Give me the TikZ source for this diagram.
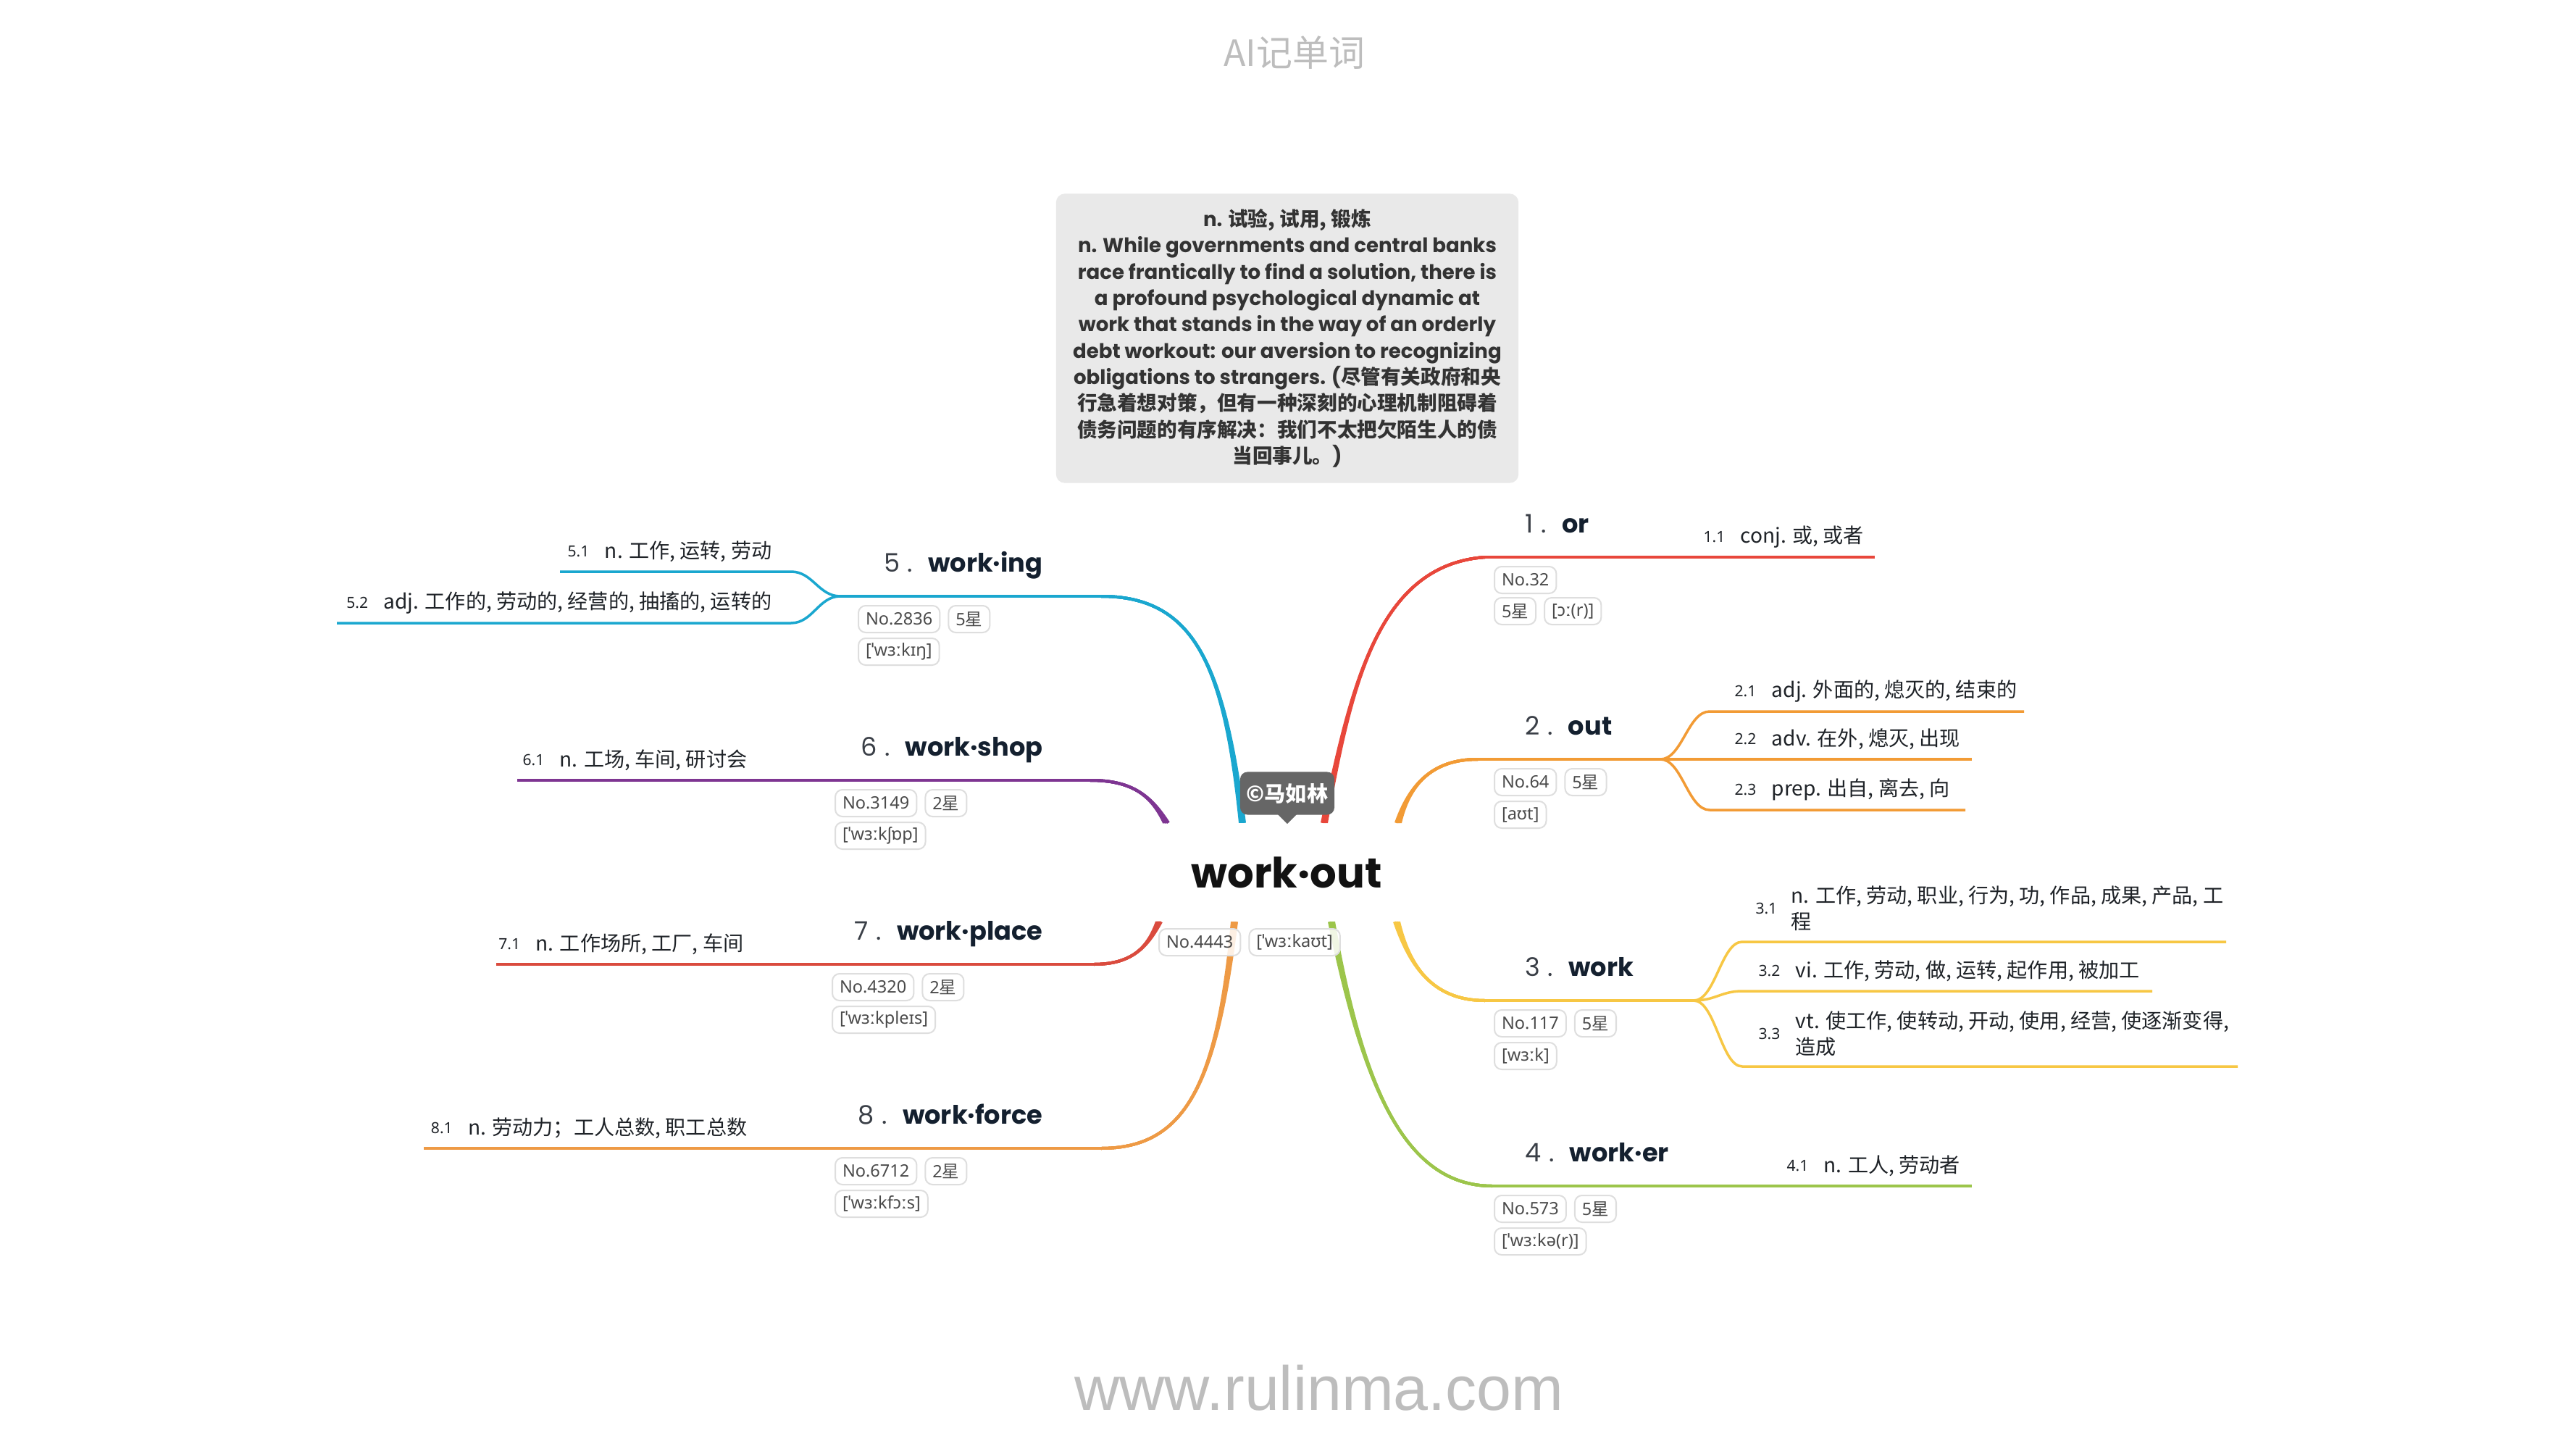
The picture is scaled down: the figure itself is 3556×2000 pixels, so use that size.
\documentclass[tikz,border=0pt]{standalone}
\usepackage{fontspec}
\usetikzlibrary{calc,positioning}
\setmainfont{Noto Sans}
\newfontfamily\cjk{Noto Sans CJK SC}
\newfontfamily\pop{Poppins}
\newfontfamily\nsans{Noto Sans}
\newfontfamily\lib{Liberation Sans}

\definecolor{cRed}{HTML}{E8473B}
\definecolor{cOrange}{HTML}{F29B35}
\definecolor{cYellow}{HTML}{F7C744}
\definecolor{cGreen}{HTML}{9CC54B}
\definecolor{cBlue}{HTML}{1AA7CF}
\definecolor{cPurple}{HTML}{7E3592}
\definecolor{cRedB}{HTML}{DA4B3E}
\definecolor{cOrangeB}{HTML}{EE9A45}
\definecolor{ink}{HTML}{14202F}
\definecolor{numc}{HTML}{3A3F47}
\definecolor{deftxt}{HTML}{1F2328}
\definecolor{tagline}{HTML}{DEDEDE}
\definecolor{tagtxt}{HTML}{4A4A4A}
\definecolor{boxfill}{HTML}{E9E9E9}
\definecolor{boxtxt}{HTML}{333333}
\definecolor{tipfill}{HTML}{666666}
\definecolor{wmgray}{HTML}{BDBDBD}

% Chinese run inside the bold gloss text
\newcommand\zh[1]{{\cjk\bfseries #1}}
% branch heading: number + word
\newcommand\hd[2]{{\color{numc}\mdseries #1\hspace{0.3em}.}\hspace{0.6em}{\bfseries #2}}
% star rating tag content
\newcommand\xing[1]{#1{\cjk 星}\hspace{5pt}}
% tapered branch: colour, start, controls, end
\newcommand\taper[4]{%
  \foreach \dd in {-3,-1.5,0,1.5,3}{\draw[#1, mainline] ($(#2)+(\dd,0)$) .. controls #3 .. (#4);}}

\begin{document}
\begin{tikzpicture}[x=0.01cm, y=-0.01cm,
  mainline/.style={line width=0.04cm},
  subline/.style={line width=0.035cm},
  tagbox/.style={draw=tagline, line width=0.02cm, fill=white, fill opacity=0.85, text opacity=1,
    rounded corners=0.1cm, minimum height=0.37cm, inner xsep=0.1cm, inner ysep=0pt,
    text=tagtxt, anchor=north west, font=\nsans\fontsize{6.7}{8}\selectfont},
  headR/.style={anchor=base west, inner sep=0pt, text=ink, font=\pop\fontsize{10}{12}\selectfont},
  headL/.style={headR, anchor=base east},
  defR/.style={anchor=west, inner sep=0pt, text=deftxt, align=left, font=\cjk\fontsize{8}{10.33}\selectfont},
  defL/.style={defR, anchor=east},
  subnum/.style={anchor=east, inner sep=0pt, text=deftxt, font=\nsans\fontsize{6}{7}\selectfont},
  defbox/.style={fill=boxfill, rounded corners=0.12cm, minimum width=6.38cm, minimum height=3.99cm,
    align=center, inner sep=0pt, text=boxtxt, font=\pop\bfseries\fontsize{7.85}{10.33}\selectfont},
]
\fill[white] (0,0) rectangle (3556,2000);
\useasboundingbox (0,0) rectangle (3556,2000);

% header and footer
\node[text=wmgray, font=\cjk\fontsize{14.2}{16}\selectfont] (title) at (1787,73) {AI记单词};
\node[anchor=base, text=wmgray, font=\lib\fontsize{24.5}{28}\selectfont] (site) at (1821,1946) {www.rulinma.com};

% gloss box
\node[defbox] (gloss) at (1777,467) {n. \zh{试验, 试用, 锻炼}\\
n. While governments and central banks\\
race frantically to find a solution, there is\\
a profound psychological dynamic at\\
work that stands in the way of an orderly\\
debt workout: our aversion to recognizing\\
obligations to strangers. (\zh{尽管有关政府和央}\\
\zh{行急着想对策，但有一种深刻的心理机制阻碍着}\\
\zh{债务问题的有序解决：我们不太把欠陌生人的债}\\
\zh{当回事儿。})};

% central word
\node[fill=white, inner sep=0pt, minimum width=3.03cm, minimum height=1.35cm, text=black!93,
  font=\pop\bfseries\fontsize{16.4}{20}\selectfont] (c) at (1776,1204) {work·out};

% branch start points on the central node
\coordinate (s1) at ($(c.north)+(52,0)$);
\coordinate (s2) at ($(c.north)+(154,0)$);
\coordinate (s5) at ($(c.north)+(-61,0)$);
\coordinate (s6) at ($(c.north)+(-166,0)$);
\coordinate (s3) at ($(c.south)+(152,0)$);
\coordinate (s4) at ($(c.south)+(62,0)$);
\coordinate (s7) at ($(c.south)+(-176,0)$);
\coordinate (s8) at ($(c.south)+(-72,0)$);

% elbow and end points of the branch lines
\coordinate (h1) at (2050,769);  \coordinate (e1) at (2588,769);
\coordinate (h2) at (2040,1048); \coordinate (f2) at (2292,1048);
\coordinate (h3) at (2050,1381); \coordinate (f3) at (2338,1381);
\coordinate (h4) at (2060,1637); \coordinate (e4) at (2722,1637);
\coordinate (h5) at (1520,823);  \coordinate (f5) at (1160,823);
\coordinate (h6) at (1505,1077); \coordinate (e6) at (714,1077);
\coordinate (h7) at (1510,1331); \coordinate (e7) at (685,1331);
\coordinate (h8) at (1520,1585); \coordinate (e8) at (585,1585);

% main branches
\taper{cRed}{s1}{(1865,950) and (1900,780)}{h1}
\draw[cRed, mainline] (h1) -- (e1);
\taper{cOrange}{s2}{(1945,1085) and (1975,1048)}{h2}
\draw[cOrange, mainline] (h2) -- (f2);
\taper{cYellow}{s3}{(1945,1330) and (1975,1381)}{h3}
\draw[cYellow, mainline] (h3) -- (f3);
\taper{cGreen}{s4}{(1880,1490) and (1935,1637)}{h4}
\draw[cGreen, mainline] (h4) -- (e4);
\taper{cBlue}{s5}{(1690,920) and (1650,823)}{h5}
\draw[cBlue, mainline] (h5) -- (f5);
\taper{cPurple}{s6}{(1590,1100) and (1565,1077)}{h6}
\draw[cPurple, mainline] (h6) -- (e6);
\taper{cRedB}{s7}{(1585,1305) and (1565,1331)}{h7}
\draw[cRedB, mainline] (h7) -- (e7);
\taper{cOrangeB}{s8}{(1680,1490) and (1640,1585)}{h8}
\draw[cOrangeB, mainline] (h8) -- (e8);

% sub-branches
\draw[cOrange, subline] (f2) .. controls (2322,1048) and (2330,982) .. (2360,982) -- (2794,982);
\draw[cOrange, subline] (f2) -- (2722,1048);
\draw[cOrange, subline] (f2) .. controls (2322,1048) and (2330,1118) .. (2360,1118) -- (2713,1118);
\draw[cYellow, subline] (f3) .. controls (2368,1381) and (2376,1300) .. (2405,1300) -- (3073,1300);
\draw[cYellow, subline] (f3) .. controls (2368,1381) and (2376,1368) .. (2405,1368) -- (2971,1368);
\draw[cYellow, subline] (f3) .. controls (2368,1381) and (2376,1472) .. (2405,1472) -- (3089,1472);
\draw[cBlue, subline] (f5) .. controls (1130,823) and (1122,789) .. (1092,789) -- (773,789);
\draw[cBlue, subline] (f5) .. controls (1130,823) and (1122,860) .. (1092,860) -- (465,860);

% author badge
\node[fill=tipfill, rounded corners=0.1cm, minimum width=1.3cm, minimum height=0.59cm, inner sep=0pt,
  text=white, font=\cjk\bfseries\fontsize{8.3}{10}\selectfont] (tip) at (1777,1095) {©马如林};
\fill[tipfill] ($(tip.south)+(-13,-1)$) -- ($(tip.south)+(13,-1)$) -- ($(tip.south)+(0,12)$) -- cycle;

% central tags
\node[tagbox] (t0a) at (1599,1281) {No.4443};
\node[tagbox, right=0.1cm of t0a] (t0b) {[ˈwɜːkaʊt]};

% headings
\node[headR] (l1) at (2105,735) {\hd{1}{or}};
\node[headR] (l2) at (2105,1014) {\hd{2}{out}};
\node[headR] (l3) at (2105,1347) {\hd{3}{work}};
\node[headR] (l4) at (2105,1603) {\hd{4}{work·er}};
\node[headL] (l5) at (1440,789) {\hd{5}{work·ing}};
\node[headL] (l6) at (1440,1043) {\hd{6}{work·shop}};
\node[headL] (l7) at (1440,1297) {\hd{7}{work·place}};
\node[headL] (l8) at (1440,1551) {\hd{8}{work·force}};

% tags of each branch
\node[tagbox] (t1a) at (2062,781) {No.32};
\node[tagbox] (t1b) at (2062,824) {\xing{5}};
\node[tagbox, right=0.1cm of t1b] (t1c) {[ɔː(r)]};
\node[tagbox] (t2a) at (2062,1060) {No.64};
\node[tagbox, right=0.1cm of t2a] (t2b) {\xing{5}};
\node[tagbox] (t2c) at (2062,1105) {[aʊt]};
\node[tagbox] (t3a) at (2062,1393) {No.117};
\node[tagbox, right=0.1cm of t3a] (t3b) {\xing{5}};
\node[tagbox] (t3c) at (2062,1438) {[wɜːk]};
\node[tagbox] (t4a) at (2062,1649) {No.573};
\node[tagbox, right=0.1cm of t4a] (t4b) {\xing{5}};
\node[tagbox] (t4c) at (2062,1694) {[ˈwɜːkə(r)]};
\node[tagbox] (t5a) at (1184,835) {No.2836};
\node[tagbox, right=0.1cm of t5a] (t5b) {\xing{5}};
\node[tagbox] (t5c) at (1184,880) {[ˈwɜːkɪŋ]};
\node[tagbox] (t6a) at (1152,1089) {No.3149};
\node[tagbox, right=0.1cm of t6a] (t6b) {\xing{2}};
\node[tagbox] (t6c) at (1152,1134) {[ˈwɜːkʃɒp]};
\node[tagbox] (t7a) at (1148,1343) {No.4320};
\node[tagbox, right=0.1cm of t7a] (t7b) {\xing{2}};
\node[tagbox] (t7c) at (1148,1388) {[ˈwɜːkpleɪs]};
\node[tagbox] (t8a) at (1152,1597) {No.6712};
\node[tagbox, right=0.1cm of t8a] (t8b) {\xing{2}};
\node[tagbox] (t8c) at (1152,1642) {[ˈwɜːkfɔːs]};

% meanings
\node[defR] (d11) at (2402,741) {conj. 或, 或者};
\node[subnum] at ($(d11.west)+(-20,0)$) {1.1};
\node[defR] (d21) at (2445,954) {adj. 外面的, 熄灭的, 结束的};
\node[subnum] at ($(d21.west)+(-20,0)$) {2.1};
\node[defR] (d22) at (2445,1020) {adv. 在外, 熄灭, 出现};
\node[subnum] at ($(d22.west)+(-20,0)$) {2.2};
\node[defR] (d23) at (2445,1090) {prep. 出自, 离去, 向};
\node[subnum] at ($(d23.west)+(-20,0)$) {2.3};
\node[defR] (d31) at (2472,1254) {n. 工作, 劳动, 职业, 行为, 功, 作品, 成果, 产品, 工\\程};
\node[subnum] at ($(d31.west)+(-18,0)$) {3.1};
\node[defR] (d32) at (2478,1340) {vi. 工作, 劳动, 做, 运转, 起作用, 被加工};
\node[subnum] at ($(d32.west)+(-20,0)$) {3.2};
\node[defR] (d33) at (2478,1427) {vt. 使工作, 使转动, 开动, 使用, 经营, 使逐渐变得,\\造成};
\node[subnum] at ($(d33.west)+(-20,0)$) {3.3};
\node[defR] (d41) at (2517,1609) {n. 工人, 劳动者};
\node[subnum] at ($(d41.west)+(-20,0)$) {4.1};
\node[defL] (d51) at (1066,761) {n. 工作, 运转, 劳动};
\node[subnum] at ($(d51.west)+(-20,0)$) {5.1};
\node[defL] (d52) at (1066,832) {adj. 工作的, 劳动的, 经营的, 抽搐的, 运转的};
\node[subnum] at ($(d52.west)+(-20,0)$) {5.2};
\node[defL] (d61) at (1032,1049) {n. 工场, 车间, 研讨会};
\node[subnum] at ($(d61.west)+(-20,0)$) {6.1};
\node[defL] (d71) at (1027,1303) {n. 工作场所, 工厂, 车间};
\node[subnum] at ($(d71.west)+(-20,0)$) {7.1};
\node[defL] (d81) at (1032,1557) {n. 劳动力；工人总数, 职工总数};
\node[subnum] at ($(d81.west)+(-20,0)$) {8.1};
\end{tikzpicture}
\end{document}
